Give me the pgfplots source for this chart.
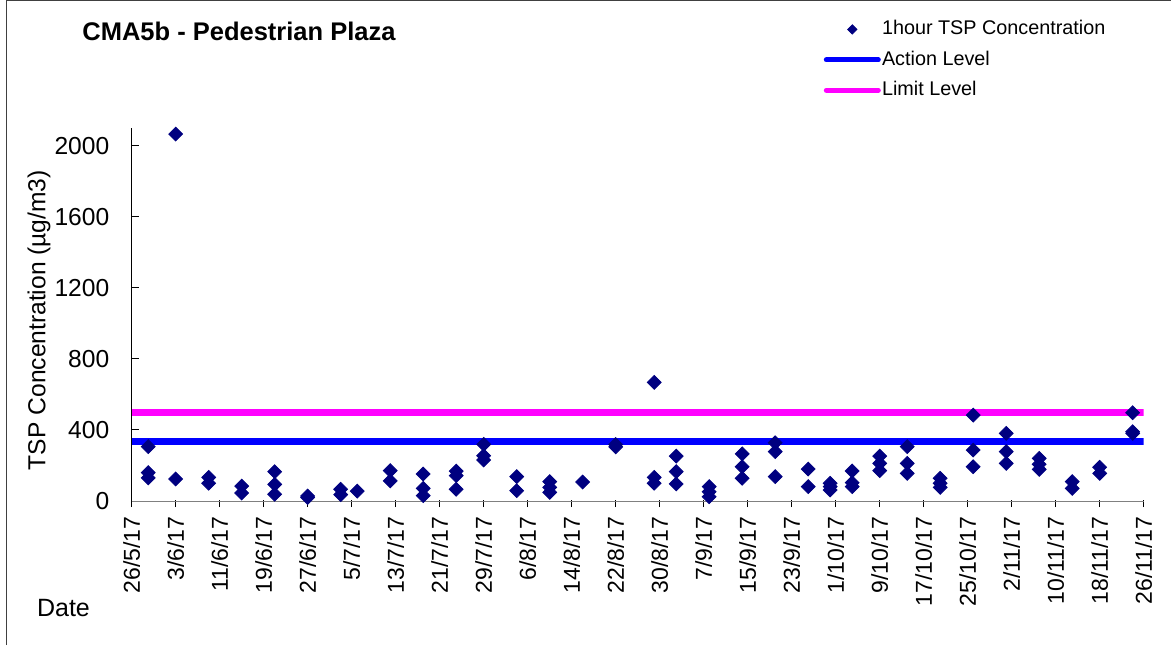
\documentclass[border=0pt]{standalone}
\usepackage{pgfplots}
\pgfplotsset{compat=1.18}
\usepackage{pgfplotstable}
\usepackage{fontspec}
\setmainfont{Liberation Sans}
\definecolor{navy}{HTML}{000080}
\definecolor{lvlblue}{HTML}{0000FF}
\definecolor{lvlmag}{HTML}{FF00FF}
\definecolor{framegray}{HTML}{404040}

\pgfplotstableread{
day val
3 306
3 160
3 130
8 2066
8 124
14 133
14 100
20 84
20 45
26 165
26 94
26 38
32 28
32 20
38 66
38 36
41 56
47 171
47 113
53 152
53 71
53 30
59 168
59 143
59 66
64 319
64 255
64 231
70 137
70 58
76 109
76 77
76 49
82 107
88 318
88 305
95 668
95 133
95 100
99 253
99 165
99 96
105 81
105 52
105 24
111 265
111 193
111 128
117 328
117 278
117 137
123 180
123 81
127 100
127 81
127 62
131 169
131 103
131 81
136 253
136 212
136 171
141 306
141 212
141 156
147 128
147 100
147 77
153 484
153 287
153 193
159 381
159 278
159 212
165 240
165 207
165 178
171 109
171 71
176 190
176 156
182 497
182 390
182 381
}\tspdata

\begin{document}
\begin{tikzpicture}
\path[use as bounding box] (0pt,0pt) rectangle (585.5pt,322.5pt);
\draw[framegray, line width=0.6pt] (3.2pt,0pt) -- (3.2pt,322.1pt) -- (585.5pt,322.1pt);
\node[anchor=west, inner sep=0pt, font=\bfseries\fontsize{12.75}{15}\selectfont] at (41pt,306.9pt) {CMA5b - Pedestrian Plaza};
\begin{axis}[
  at={(65.85pt,72pt)}, anchor=south west,
  scale only axis, width=506pt, height=186.5pt,
  xmin=0, xmax=184, ymin=0, ymax=2100,
  axis x line=bottom, axis y line=left,
  axis line style={-},
  x axis line style={gray},
  y axis line style={black},
  xtick={0,8,...,184},
  xticklabels={26/5/17,3/6/17,11/6/17,19/6/17,27/6/17,5/7/17,13/7/17,21/7/17,29/7/17,6/8/17,14/8/17,22/8/17,30/8/17,7/9/17,15/9/17,23/9/17,1/10/17,9/10/17,17/10/17,25/10/17,2/11/17,10/11/17,18/11/17,26/11/17},
  ytick={0,400,...,2000},
  scaled y ticks=false,
  /pgf/number format/1000 sep={},
  /pgf/number format/assume math mode=true,
  tick align=inside,
  major tick length=3.5pt,
  tick style={black, line width=0.5pt},
  x tick style={yshift=-3pt},
  xticklabel style={yshift=-4.2pt, rotate=90, anchor=east, font=\fontsize{11.5}{13}\selectfont},
  yticklabel style={xshift=-7.7pt, font=\fontsize{12.3}{14}\selectfont},
  xlabel={Date},
  xlabel style={at={(axis description cs:-0.0674,-0.287)}, anchor=center, font=\fontsize{12.5}{15}\selectfont},
  ylabel={TSP Concentration (µg/m3)},
  ylabel style={at={(axis description cs:-0.0915,0.485)}, anchor=center, font=\fontsize{12.3}{15}\selectfont},
  legend style={at={(axis description cs:0.6835,1.294)}, anchor=north west, draw=none, fill=none,
    inner sep=0pt, row sep=4.5pt, font=\fontsize{9.9}{12}\selectfont,
    nodes={inner sep=0.6pt, text height=7.5pt, text depth=2pt}},
  legend cell align=left,
  legend image code/.code={\draw[mark repeat=2,mark phase=2,#1] plot coordinates {(0pt,0pt) (13pt,0pt) (26pt,0pt)};},
]
\addlegendimage{only marks, mark=square*, mark options={rotate=45, fill=navy, draw=navy}, mark size=1.65pt}
\addlegendentry{1hour TSP Concentration}
\addplot[lvlblue, line width=3.7pt, legend image post style={line width=2.5pt, line cap=round}] coordinates {(0,335) (184,335)};
\addlegendentry{Action Level}
\addplot[lvlmag, line width=3.7pt, legend image post style={line width=2.5pt, line cap=round}] coordinates {(0,500) (184,500)};
\addlegendentry{Limit Level}
\addplot[only marks, mark=square*, mark options={rotate=45, fill=navy, draw=navy}, mark size=2.45pt, forget plot] table[x=day, y=val] {\tspdata};
\end{axis}
\end{tikzpicture}
\end{document}
